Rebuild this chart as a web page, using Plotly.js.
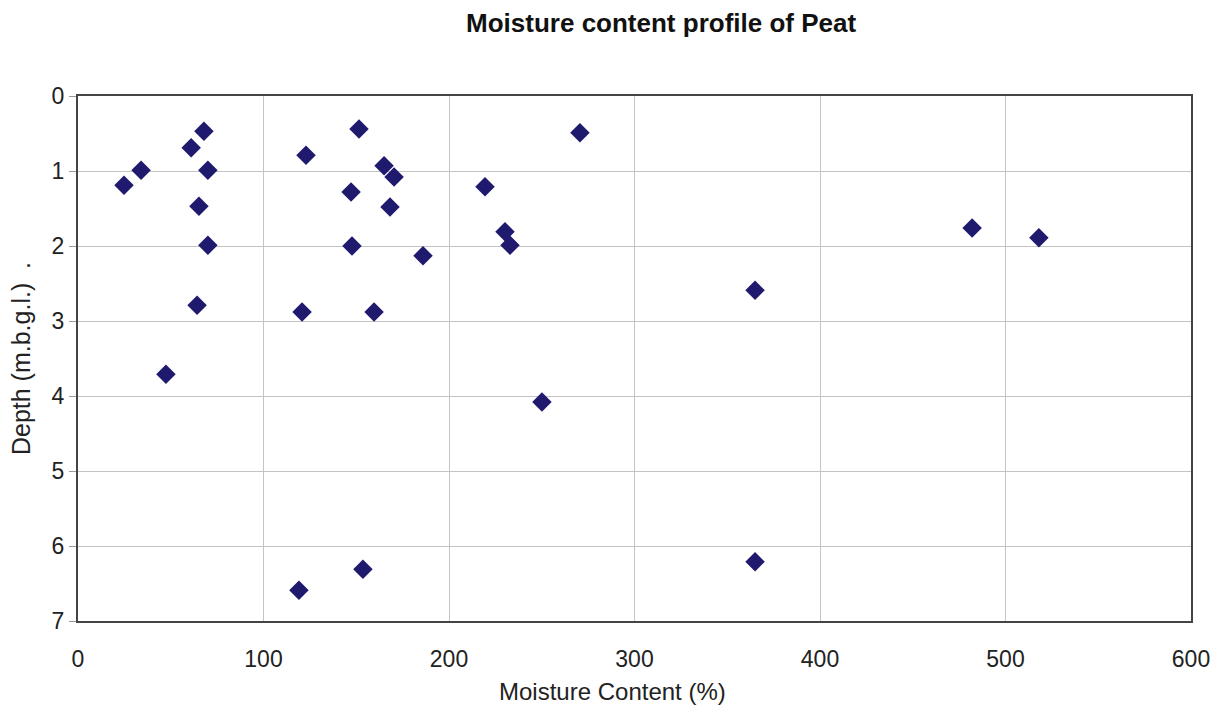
<!DOCTYPE html>
<html>
<head>
<meta charset="utf-8">
<script src="https://cdn.plot.ly/plotly-3.0.1.min.js"></script>
<style>html,body{margin:0;padding:0;background:#fff;}#chart{width:1222px;height:710px;}</style>
</head>
<body>
<div id="chart"></div>
<script>
const moisture = [24.8, 34, 67.9, 61, 70, 65.2, 70, 64.2, 47.4, 122.9, 120.8, 119.1, 151.5, 147.2, 165, 170.4, 168.2, 147.7, 159.6, 186, 153.6, 219.4, 270.6, 230.2, 232.9, 250.1, 365, 365, 482, 518];
const depth = [1.19, 0.99, 0.47, 0.69, 0.99, 1.47, 1.99, 2.79, 3.71, 0.79, 2.88, 6.59, 0.44, 1.28, 0.93, 1.08, 1.48, 2.0, 2.88, 2.13, 6.31, 1.21, 0.49, 1.81, 1.99, 4.08, 2.59, 6.21, 1.76, 1.89];
const xTicks = [0, 100, 200, 300, 400, 500, 600];
const yTicks = [0, 1, 2, 3, 4, 5, 6, 7];

const font = "Liberation Sans, Arial, sans-serif";
Plotly.newPlot('chart', [{
  type: 'scatter', mode: 'markers', x: moisture, y: depth,
  marker: {symbol: 'diamond', size: 15, color: '#1f1a6e', line: {width: 0}},
  hoverinfo: 'x+y'
}], {
  width: 1222, height: 710,
  margin: {l: 78, r: 31, t: 96, b: 89},
  paper_bgcolor: '#fff', plot_bgcolor: '#fff',
  showlegend: false,
  title: {text: '<b>Moisture content profile of Peat</b>', x: 0.541, xanchor: 'center', y: 0.968, yanchor: 'middle',
          font: {family: font, size: 26, color: '#111'}},
  annotations: [{text: 'Moisture Content (%)', xref: 'paper', yref: 'paper', x: 0.48, y: -0.135,
                 xanchor: 'center', yanchor: 'middle', showarrow: false,
                 font: {family: font, size: 24, color: '#222'}}],
  xaxis: {range: [0, 600], tickvals: xTicks, ticktext: xTicks.map(String),
          showgrid: true, gridcolor: '#c4c4c4', gridwidth: 1, zeroline: false,
          showline: true, linecolor: '#444', linewidth: 2, mirror: true,
          ticks: 'outside', ticklen: 16, tickcolor: 'rgba(0,0,0,0)',
          tickfont: {family: font, size: 23, color: '#222'}},
  yaxis: {range: [7, 0], tickvals: yTicks, ticktext: yTicks.map(String),
          showgrid: true, gridcolor: '#c4c4c4', gridwidth: 1, zeroline: false,
          showline: true, linecolor: '#444', linewidth: 2, mirror: true,
          ticks: 'outside', ticklen: 7, tickcolor: '#999',
          tickfont: {family: font, size: 23, color: '#222'},
          title: {text: 'Depth (m.b.g.l.)  .', font: {family: font, size: 25, color: '#222'}, standoff: 14}}
}, {staticPlot: true});
</script>
</body>
</html>
